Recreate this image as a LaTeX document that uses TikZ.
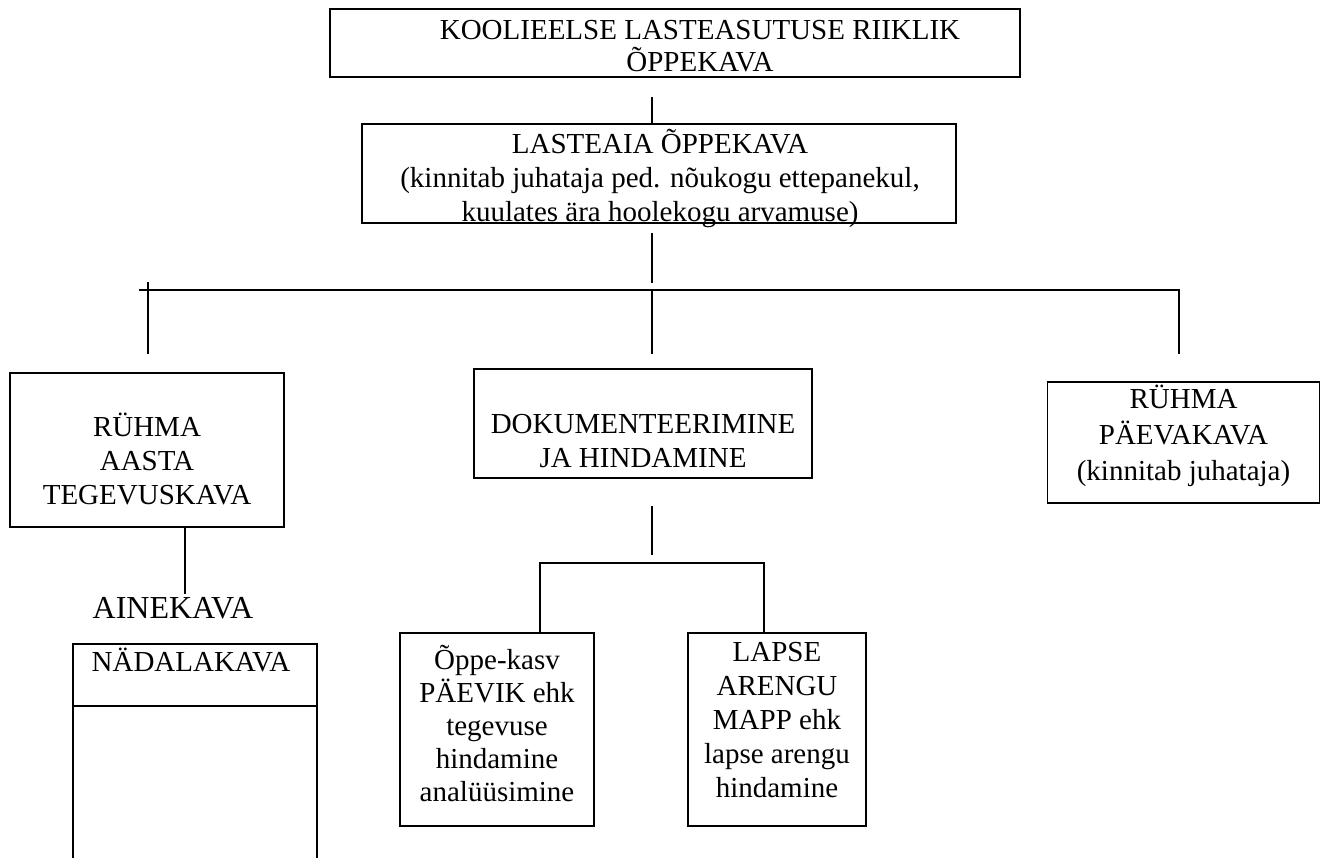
\documentclass[tikz,border=0pt]{standalone}
\usepackage{fontspec}
\setmainfont{Liberation Serif}
\begin{document}
\begin{tikzpicture}[x=1pt,y=-1pt,
  box/.style={draw, line width=1.6pt, inner sep=0pt},
  txt/.style={align=center, inner sep=0pt, font=\fontsize{29}{34}\selectfont},
  conn/.style={line width=1.3pt},
  bus/.style={line width=1.8pt}]
\useasboundingbox (0,0) rectangle (1321,858);

% boxes
\node[box, minimum width=690pt, minimum height=68pt] (b1) at (675,43) {};
\node[box, minimum width=594pt, minimum height=99pt] (b2) at (659,173.5) {};
\node[box, minimum width=274pt, minimum height=154pt] (b3) at (147,450) {};
\node[box, minimum width=338pt, minimum height=109pt] (b4) at (643,423.5) {};
\node[box, minimum width=272pt, minimum height=121pt] (b5) at (1183.5,442.5) {};
\node[box, minimum width=194pt, minimum height=193pt] (b6) at (497,729.5) {};
\node[box, minimum width=178pt, minimum height=193pt] (b7) at (777,729.5) {};
\node[box, outer sep=0pt, minimum width=244pt, minimum height=62pt] (b8) at (195,675) {};

% texts
\node[txt, font=\fontsize{29}{32}\selectfont] (t1) at (700,46) {KOOLIEELSE LASTEASUTUSE RIIKLIK\\ÕPPEKAVA};
\node[txt] (t2) at (660,178) {LASTEAIA ÕPPEKAVA\\(kinnitab juhataja ped. nõukogu ettepanekul,\\kuulates ära hoolekogu arvamuse)};
\node[txt] (t3) at (147,459) {RÜHMA\\AASTA\\TEGEVUSKAVA};
\node[txt] (t4) at (643,441.5) {DOKUMENTEERIMINE\\JA HINDAMINE};
\node[txt, font=\fontsize{29}{36}\selectfont] (t5) at (1183.5,436) {RÜHMA\\PÄEVAKAVA\\(kinnitab juhataja)};
\node[txt, font=\fontsize{29}{33}\selectfont] (t6) at (497,723.5) {Õppe-kasv\\PÄEVIK ehk\\tegevuse\\hindamine\\analüüsimine};
\node[txt] (t7) at (777,720) {LAPSE\\ARENGU\\MAPP ehk\\lapse arengu\\hindamine};
\node[txt] (t8) at (191,660) {NÄDALAKAVA};
\node[txt, font=\fontsize{32}{36}\selectfont, anchor=base] (ainekava) at (173,618) {AINEKAVA};

% helper coordinates
\coordinate (c1) at (652,97);
\coordinate (c2) at (652,233);
\coordinate (c3) at (652,283);
\coordinate (busL) at (139,290);
\coordinate (busM) at (652,290);
\coordinate (busR) at (1179,290);
\coordinate (tickT) at (148,282);
\coordinate (d1) at (148,354);
\coordinate (d2) at (652,354);
\coordinate (d3) at (1179,354);
\coordinate (a1) at (185,0);
\coordinate (e1) at (652,506);
\coordinate (e2) at (652,555);
\coordinate (f1) at (540,563);
\coordinate (f2) at (764,563);
\coordinate (bot) at (0,858);

% connectors
\draw[conn] (c1) -- (c1 |- b2.north);
\draw[conn] (c2) -- (c3);
\draw[bus] (busL) -- (busR) -- (d3);
\draw[bus] (tickT) -- (d1);
\draw[conn] (busM) -- (d2);
\draw[conn] (b3.south -| a1) -- ([yshift=3pt]ainekava.north -| a1);
\draw[conn] (e1) -- (e2);
\draw[conn] (b6.north -| f1) -- (f1) -- (f2) -- (b7.north -| f2);

% open bottom of NÄDALAKAVA box
\draw[box] (b8.south west) -- (b8.south west |- bot);
\draw[box] (b8.south east) -- (b8.south east |- bot);
\end{tikzpicture}
\end{document}
